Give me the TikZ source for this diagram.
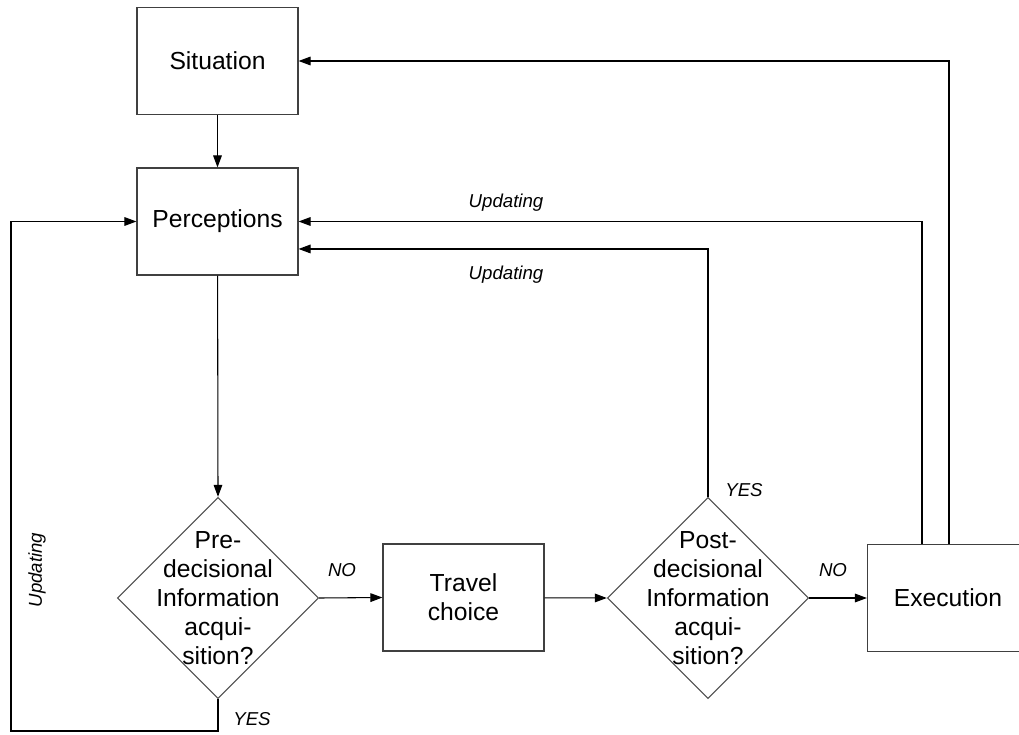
\documentclass[tikz,border=0pt]{standalone}
\usepackage{fontspec}
\setmainfont{Liberation Sans}
\usetikzlibrary{shapes.geometric,arrows.meta}
\begin{document}
\begin{tikzpicture}[x=0.75pt,y=-0.75pt,
  box/.style={draw=black!75, line width=0.9pt, rectangle, inner sep=0pt,
    minimum width=120.75pt, minimum height=80.25pt, align=center,
    font=\fontsize{18.5}{21.75}\selectfont},
  decision/.style={draw=black!70, line width=0.8pt, diamond, inner sep=0pt,
    minimum width=151pt, minimum height=151pt},
  decisiontext/.style={align=center, inner sep=0pt,
    font=\fontsize{18.5}{21.75}\selectfont},
  arr/.style={draw=black, line width=0.8pt, -{Triangle[length=9pt,width=6.5pt]}},
  lbl/.style={inner sep=0pt, font=\fontsize{14}{16}\selectfont\itshape}]
\useasboundingbox (0,0) rectangle (1019,734);
\clip (0,0) rectangle (1019,734);

% process boxes
\node[box] (sit) at (217.5,61) {Situation};
\node[box] (per) at (217.5,221.5) {Perceptions};
\node[box] (tc)  at (463.5,597.5) {Travel\\choice};
\node[box] (exe) at (948,598) {Execution};

% decisions
\node[decision] (pre)  at (218,598) {};
\node[decisiontext] (pretxt) at (pre) {Pre-\\decisional\\Information\\acqui-\\sition?};
\node[decision] (post) at (708,598) {};
\node[decisiontext] (posttxt) at (post) {Post-\\decisional\\Information\\acqui-\\sition?};

% main flow
\draw[arr] (sit) -- (per);
\draw[arr] (per) -- (pre.north);
\draw[arr] (pre.east) -- (tc.west);
\draw[arr] (tc) -- (post.west);
\draw[arr] (post.east) -- (exe.west);

% feedback loops
\coordinate (lb) at (11,731);
\draw[arr] (pre.south) |- (lb) |- (per.west);
\draw[arr] (post.north) |- ([yshift=-20.6pt]per.east);
\draw[arr] ([xshift=-19.5pt]exe.north) |- (per.east);
\draw[arr] ([xshift=0.75pt]exe.north) |- (sit.east);

% labels
\node[lbl] (u1) at (506,203) {Updating};
\node[lbl] (u2) at (506,275) {Updating};
\node[lbl, rotate=90] (u3) at (37,570) {Updating};
\node[lbl] (y1) at (252,719) {YES};
\node[lbl] (y2) at (744,490) {YES};
\node[lbl] (n1) at (342,570) {NO};
\node[lbl] (n2) at (833,570) {NO};
\end{tikzpicture}
\end{document}
